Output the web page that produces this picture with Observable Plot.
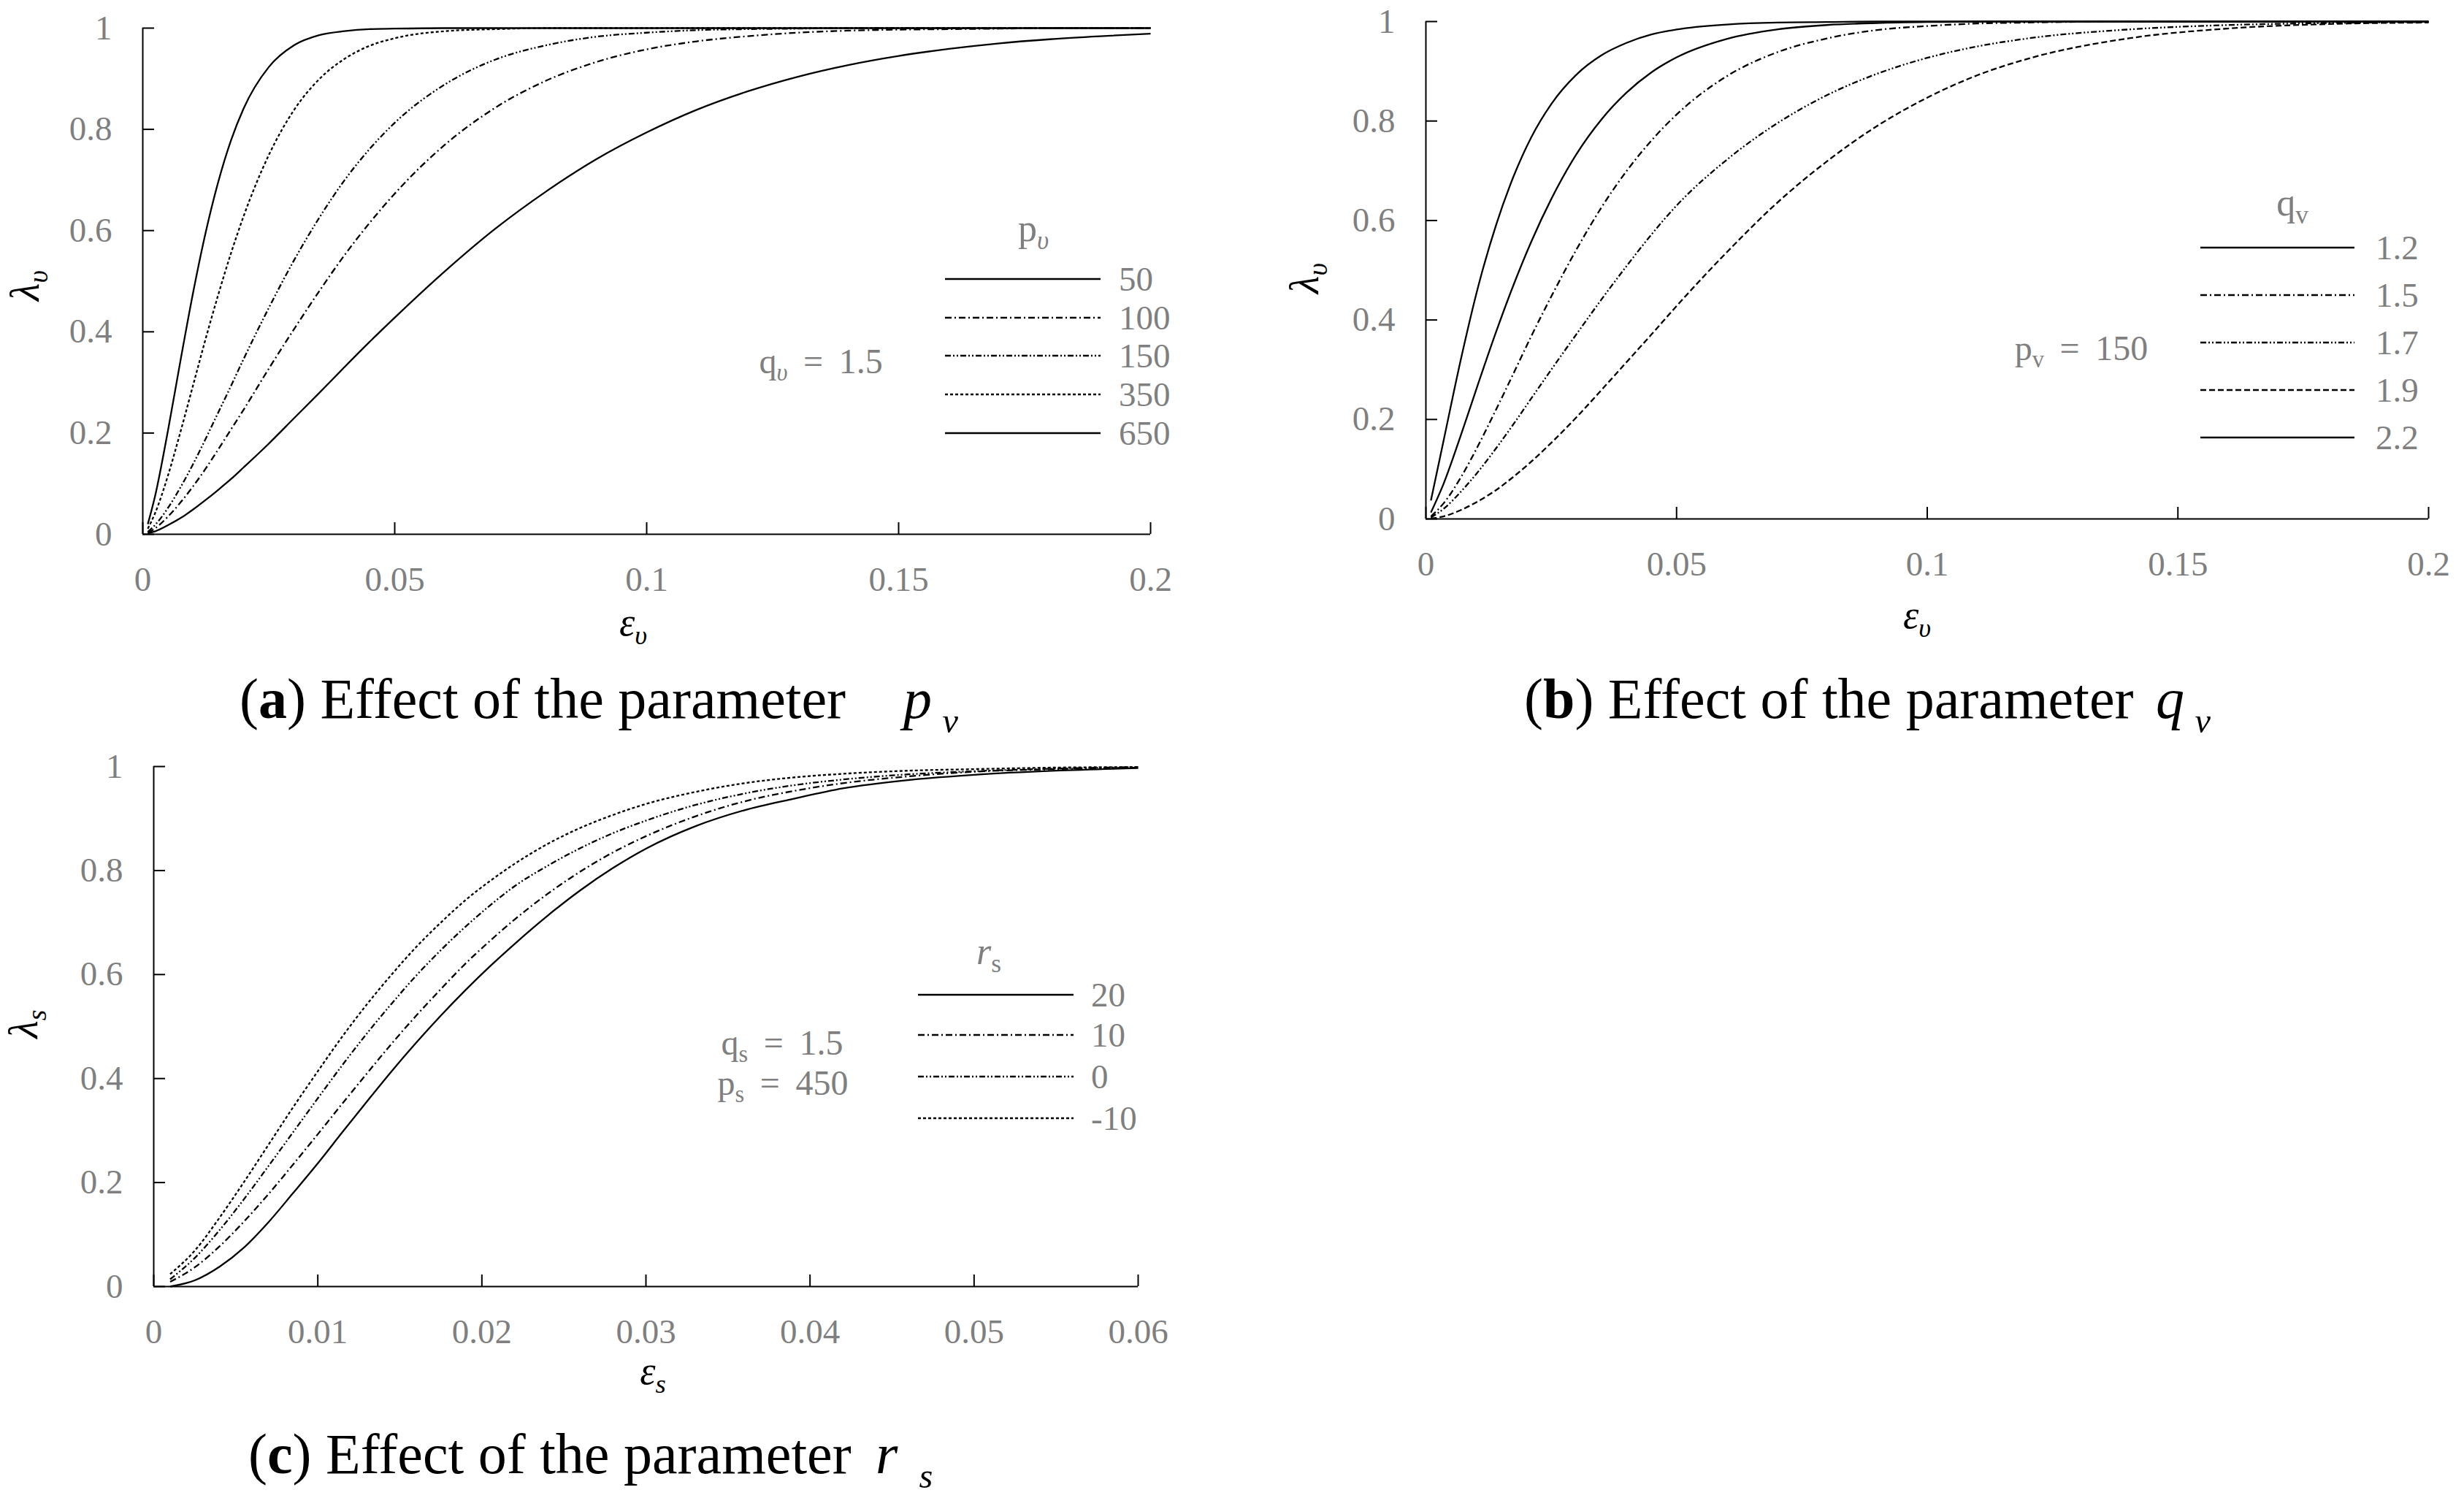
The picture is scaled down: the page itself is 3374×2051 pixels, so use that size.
<!DOCTYPE html>
<html>
<head>
<meta charset="utf-8">
<script src="https://cdn.jsdelivr.net/npm/d3@7"></script>
<script src="https://cdn.jsdelivr.net/npm/@observablehq/plot@0.6"></script>
<style>
  html, body { margin: 0; padding: 0; background: #fff; }
  #page { position: relative; width: 3374px; height: 2051px; overflow: hidden; background: #fff; font-family: "Liberation Serif", serif; }
  .abs { position: absolute; white-space: nowrap; line-height: 1; }
  .gray { color: #7f7f7f; }
  .sub { font-size: 0.68em; position: relative; top: 0.32em; }
  .eq { margin: 0 0.45em; }
  .cap { font-size: 78px; color: #000; }
</style>
</head>
<body>
<div id="page"></div>
<script>
// ---------------- data ----------------
// (a) effect of p_v, q_v = 1.5
const epsA = [0.001,0.0025,0.005,0.0075,0.01,0.0125,0.015,0.0175,0.02,0.025,0.03,0.035,0.04,0.045,0.05,0.06,0.07,0.08,0.09,0.1,0.11,0.12,0.13,0.14,0.15,0.16,0.17,0.18,0.19,0.2];
const lamA_p50  = [0.002,0.006,0.018,0.032,0.049,0.068,0.088,0.109,0.132,0.179,0.229,0.279,0.330,0.380,0.428,0.520,0.604,0.677,0.741,0.794,0.839,0.875,0.904,0.927,0.945,0.959,0.970,0.978,0.984,0.989];
const lamA_p100 = [0.003,0.012,0.035,0.063,0.095,0.130,0.168,0.207,0.246,0.327,0.405,0.480,0.551,0.615,0.673,0.770,0.843,0.896,0.933,0.958,0.974,0.984,0.991,0.995,0.997,0.998,0.999,1,1,1];
const lamA_p150 = [0.005,0.019,0.052,0.093,0.139,0.189,0.241,0.293,0.346,0.447,0.541,0.625,0.699,0.761,0.813,0.889,0.938,0.966,0.983,0.991,0.996,0.998,0.999,1,1,1,1,1,1,1];
const lamA_p350 = [0.011,0.043,0.116,0.203,0.295,0.387,0.474,0.555,0.628,0.749,0.838,0.899,0.939,0.965,0.980,0.994,0.998,1,1,1,1,1,1,1,1,1,1,1,1,1];
const lamA_p650 = [0.020,0.078,0.205,0.344,0.478,0.597,0.697,0.778,0.841,0.923,0.966,0.986,0.994,0.998,0.999,1,1,1,1,1,1,1,1,1,1,1,1,1,1,1];
const legendA = ["50","100","150","350","650"];

// (b) effect of q_v, p_v = 150
const epsB = [0.001,0.0035,0.007,0.0105,0.014,0.0175,0.021,0.025,0.03,0.035,0.04,0.045,0.05,0.06,0.07,0.08,0.09,0.1,0.11,0.12,0.14,0.16,0.18,0.2];
const lamB_q12 = [0.037,0.156,0.322,0.470,0.591,0.689,0.767,0.834,0.893,0.932,0.957,0.974,0.984,0.994,0.998,0.999,1,1,1,1,1,1,1,1];
const lamB_q22 = [0.013,0.070,0.169,0.274,0.376,0.471,0.557,0.643,0.733,0.803,0.857,0.898,0.928,0.965,0.984,0.993,0.997,0.999,1,1,1,1,1,1];
const lamB_q15 = [0.005,0.031,0.084,0.149,0.220,0.293,0.367,0.447,0.541,0.626,0.699,0.761,0.813,0.890,0.938,0.966,0.983,0.991,0.996,0.998,1,1,1,1];
const lamB_q17 = [0.003,0.020,0.055,0.096,0.142,0.191,0.242,0.300,0.371,0.441,0.508,0.572,0.630,0.722,0.795,0.852,0.895,0.927,0.950,0.966,0.984,0.993,0.997,0.999];
const lamB_q19 = [0.001,0.005,0.018,0.036,0.058,0.085,0.115,0.153,0.204,0.259,0.315,0.371,0.428,0.536,0.635,0.719,0.790,0.847,0.892,0.925,0.966,0.986,0.995,0.998];
const legendB = ["1.2","1.5","1.7","1.9","2.2"];

// (c) effect of r_s, q_s = 1.5, p_s = 450
const epsC = [0.001,0.0025,0.004,0.0055,0.007,0.0085,0.01,0.0115,0.013,0.0145,0.016,0.0175,0.019,0.0205,0.022,0.024,0.026,0.028,0.03,0.033,0.036,0.039,0.042,0.046,0.05,0.055,0.06];
const lamC_r20  = [0.000,0.012,0.038,0.075,0.124,0.180,0.237,0.297,0.356,0.414,0.469,0.521,0.570,0.616,0.659,0.713,0.762,0.805,0.842,0.885,0.916,0.938,0.958,0.974,0.984,0.992,0.997];
const lamC_r10  = [0.009,0.037,0.077,0.125,0.178,0.235,0.293,0.352,0.410,0.467,0.521,0.572,0.621,0.665,0.706,0.755,0.798,0.835,0.866,0.904,0.933,0.953,0.968,0.981,0.990,0.995,0.998];
const lamC_r0   = [0.014,0.055,0.108,0.168,0.232,0.297,0.362,0.426,0.487,0.544,0.598,0.647,0.692,0.733,0.770,0.809,0.843,0.872,0.896,0.926,0.948,0.964,0.975,0.985,0.991,0.996,0.999];
const lamC_rm10 = [0.024,0.069,0.132,0.201,0.273,0.345,0.414,0.481,0.543,0.600,0.653,0.700,0.743,0.780,0.813,0.851,0.882,0.907,0.928,0.951,0.968,0.979,0.986,0.992,0.995,0.998,0.999];
const legendC = ["20","10","0","-10"];

// ticks
const ticksXv = [0, 0.05, 0.1, 0.15, 0.2];
const ticksXs = [0, 0.01, 0.02, 0.03, 0.04, 0.05, 0.06];
const ticksY  = [0, 0.2, 0.4, 0.6, 0.8, 1];

// ---------------- styles ----------------
const GRAY = "#7f7f7f";
const DASH = { solid: null, dashDot: "9,4,2,4", dashDotDot: "8,3,2,3,2,3", fine: "4,3", dashed: "8,4" };
const LW = 2.3;

const page = document.getElementById("page");

function rows(xs, ys) { return xs.map((x, i) => ({ x, y: ys[i] })); }

function makePanel(cfg) {
  const marks = [];
  for (const s of cfg.series) {
    const opts = { x: "x", y: "y", stroke: "#000", strokeWidth: LW, strokeLinecap: "butt", curve: "monotone-x" };
    if (s.dash) opts.strokeDasharray = s.dash;
    marks.push(Plot.line(rows(cfg.eps, s.values), opts));
  }
  marks.push(Plot.ruleX([0], { stroke: "#000", strokeWidth: 2 }));
  marks.push(Plot.ruleY([0], { stroke: "#000", strokeWidth: 2 }));
  marks.push(Plot.axisX(cfg.xTicks, { tickSize: -16, tickPadding: 60, stroke: "#000", strokeWidth: 2, fill: GRAY, fontSize: 47, tickFormat: d => String(d), label: null }));
  marks.push(Plot.axisY(ticksY, { tickSize: -16, tickPadding: 58, stroke: "#000", strokeWidth: 2, fill: GRAY, fontSize: 47, tickFormat: d => String(d), label: null }));
  const svg = Plot.plot({
    width: cfg.width, height: cfg.height,
    marginLeft: cfg.ml, marginRight: cfg.mr, marginTop: cfg.mt, marginBottom: cfg.mb,
    x: { domain: cfg.xDomain },
    y: { domain: [0, 1] },
    style: { background: "transparent", overflow: "visible", fontFamily: "Liberation Serif, serif" },
    marks
  });
  const wrap = document.createElement("div");
  wrap.className = "abs";
  wrap.style.left = cfg.left + "px";
  wrap.style.top = cfg.top + "px";
  wrap.appendChild(svg);
  page.appendChild(wrap);
}

function text(html, x, y, { anchor = "middle", size = 46, cls = "gray", rotate = 0 } = {}) {
  const d = document.createElement("div");
  d.className = "abs " + cls;
  d.innerHTML = html;
  d.style.left = x + "px";
  d.style.top = y + "px";
  d.style.fontSize = size + "px";
  if (rotate) {
    d.style.transform = `translate(-50%,-50%) rotate(${rotate}deg)`;
    d.style.transformOrigin = "50% 50%";
  } else {
    const tx = anchor === "start" ? "0" : anchor === "end" ? "-100%" : "-50%";
    d.style.transform = `translate(${tx},-50%)`;
  }
  page.appendChild(d);
  return d;
}

// ---------------- panels ----------------
makePanel({
  left: 0, top: 0, width: 1650, height: 881, ml: 195, mr: 75, mt: 38, mb: 150,
  eps: epsA, xDomain: [0, 0.2], xTicks: ticksXv,
  series: [
    { values: lamA_p50, dash: DASH.solid },
    { values: lamA_p100, dash: DASH.dashDot },
    { values: lamA_p150, dash: DASH.dashDotDot },
    { values: lamA_p350, dash: DASH.fine },
    { values: lamA_p650, dash: DASH.solid }
  ]
});
makePanel({
  left: 1750, top: 0, width: 1624, height: 860, ml: 202, mr: 49, mt: 29, mb: 150,
  eps: epsB, xDomain: [0, 0.2], xTicks: ticksXv,
  series: [
    { values: lamB_q12, dash: DASH.solid },
    { values: lamB_q15, dash: DASH.dashDot },
    { values: lamB_q17, dash: DASH.dashDotDot },
    { values: lamB_q19, dash: DASH.dashed },
    { values: lamB_q22, dash: DASH.solid }
  ]
});
makePanel({
  left: 0, top: 1000, width: 1650, height: 900, ml: 210, mr: 92, mt: 49, mb: 139,
  eps: epsC, xDomain: [0, 0.06], xTicks: ticksXs,
  series: [
    { values: lamC_r20, dash: DASH.solid },
    { values: lamC_r10, dash: DASH.dashDot },
    { values: lamC_r0, dash: DASH.dashDotDot },
    { values: lamC_rm10, dash: DASH.fine }
  ]
});

// ---------------- legends (swatches) ----------------
const ov = d3.select(page).append("svg")
  .attr("width", 3374).attr("height", 2051)
  .style("position", "absolute").style("left", "0px").style("top", "0px");

function legend(labels, dashes, x1, x2, ys, labelX) {
  labels.forEach((lab, i) => {
    const l = ov.append("line").attr("x1", x1).attr("x2", x2).attr("y1", ys[i]).attr("y2", ys[i])
      .attr("stroke", "#000").attr("stroke-width", LW).attr("stroke-linecap", "butt");
    if (dashes[i]) l.attr("stroke-dasharray", dashes[i]);
    text(lab, labelX, ys[i], { anchor: "start", size: 47 });
  });
}
legend(legendA, [DASH.solid, DASH.dashDot, DASH.dashDotDot, DASH.fine, DASH.solid], 1294, 1507, [382, 435, 487, 540, 593], 1532);
legend(legendB, [DASH.solid, DASH.dashDot, DASH.dashDotDot, DASH.dashed, DASH.solid], 3013, 3224, [339, 404, 469, 534, 599], 3253);
legend(legendC, [DASH.solid, DASH.dashDot, DASH.dashDotDot, DASH.fine], 1257, 1470, [1362, 1417, 1474, 1531], 1494);

// legend titles & annotations
text('p<span class="sub"><i>υ</i></span>', 1415, 313, { size: 52 });
text('q<span class="sub"><i>υ</i></span><span class="eq">=</span>1.5', 1124, 495, { size: 48 });
text('q<span class="sub">v</span>', 3139, 278, { size: 52 });
text('p<span class="sub">v</span><span class="eq">=</span>150', 2850, 477, { size: 48 });
text('<i>r</i><span class="sub">s</span>', 1354, 1303, { size: 52 });
text('q<span class="sub">s</span><span class="eq">=</span>1.5', 1071, 1428, { size: 48 });
text('p<span class="sub">s</span><span class="eq">=</span>450', 1072, 1483, { size: 48 });

// axis titles
text('<i>λ</i><span class="sub"><i>υ</i></span>', 34, 391, { size: 56, cls: "", rotate: -90 });
text('<i>ε</i><span class="sub"><i>υ</i></span>', 867, 852, { size: 54, cls: "" });
text('<i>λ</i><span class="sub"><i>υ</i></span>', 1786, 381, { size: 56, cls: "", rotate: -90 });
text('<i>ε</i><span class="sub"><i>υ</i></span>', 2625, 842, { size: 54, cls: "" });
text('<i>λ</i><span class="sub"><i>s</i></span>', 32, 1402, { size: 56, cls: "", rotate: -90 });
text('<i>ε</i><span class="sub"><i>s</i></span>', 894, 1877, { size: 54, cls: "" });

// captions
text('(<b>a</b>) Effect of the parameter', 328, 957, { anchor: "start", size: 78, cls: "cap" });
text('<i>p</i><span class="sub" style="font-size:0.62em;top:0.42em;margin-left:0.3em"><i>ν</i></span>', 1237, 957, { anchor: "start", size: 78, cls: "cap" });
text('(<b>b</b>) Effect of the parameter', 2087, 957, { anchor: "start", size: 78, cls: "cap" });
text('<i>q</i><span class="sub" style="font-size:0.62em;top:0.42em;margin-left:0.3em"><i>ν</i></span>', 2952, 957, { anchor: "start", size: 78, cls: "cap" });
text('(<b>c</b>) Effect of the parameter', 340, 1991, { anchor: "start", size: 78, cls: "cap" });
text('<i>r</i><span class="sub" style="font-size:0.62em;top:0.42em;margin-left:0.6em"><i>s</i></span>', 1199, 1991, { anchor: "start", size: 78, cls: "cap" });
</script>
</body>
</html>
